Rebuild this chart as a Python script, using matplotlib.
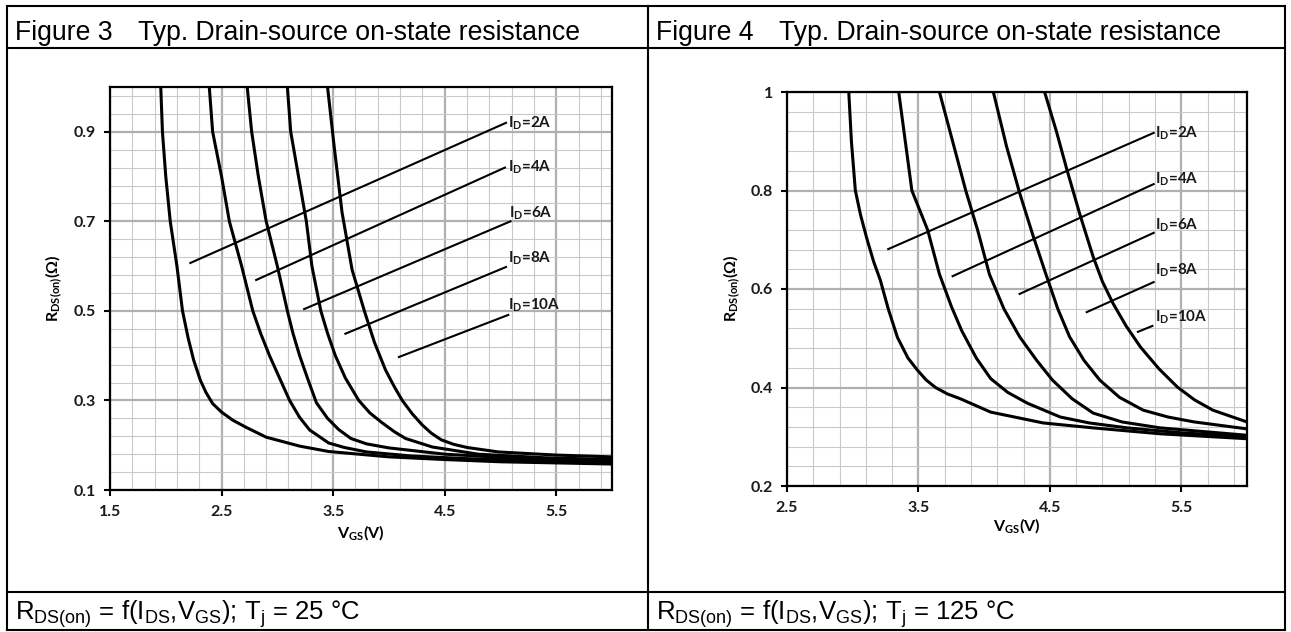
import numpy as np
import matplotlib
matplotlib.use('Agg')
import matplotlib.pyplot as plt
from matplotlib.lines import Line2D
from matplotlib.ticker import FixedLocator

plt.rcParams['font.family'] = ['Lato', 'DejaVu Sans']
plt.rcParams['mathtext.fontset'] = 'custom'
plt.rcParams['mathtext.rm'] = 'Liberation Sans'
plt.rcParams['mathtext.bf'] = 'Lato:bold'

W, H = 1291, 632

# ── Figure 3: Tj = 25 °C  (V_GS in V, R_DS(on) in ohm) ──────────────────────
vgs25_2a = [1.955, 1.97, 2.00, 2.04, 2.10, 2.15, 2.20, 2.25, 2.31, 2.36, 2.42, 2.50, 2.60, 2.72, 2.90, 3.20, 3.46, 4.00, 4.50, 5.00, 6.00]
rds25_2a = [1.00, 0.90, 0.80, 0.70, 0.60, 0.50, 0.44, 0.39, 0.345, 0.318, 0.293, 0.274, 0.256, 0.240, 0.218, 0.198, 0.186, 0.174, 0.168, 0.163, 0.158]
vgs25_4a = [2.39, 2.42, 2.50, 2.57, 2.68, 2.78, 2.85, 2.93, 3.02, 3.11, 3.20, 3.29, 3.46, 3.60, 3.80, 4.20, 4.70, 5.20, 6.00]
rds25_4a = [1.00, 0.90, 0.80, 0.70, 0.60, 0.50, 0.45, 0.40, 0.35, 0.30, 0.262, 0.234, 0.205, 0.195, 0.185, 0.176, 0.170, 0.166, 0.162]
vgs25_6a = [2.73, 2.77, 2.83, 2.90, 3.00, 3.09, 3.14, 3.20, 3.27, 3.35, 3.45, 3.55, 3.66, 3.80, 4.00, 4.50, 5.20, 6.00]
rds25_6a = [1.00, 0.90, 0.80, 0.70, 0.60, 0.50, 0.45, 0.40, 0.35, 0.295, 0.26, 0.235, 0.215, 0.203, 0.194, 0.180, 0.170, 0.165]
vgs25_8a = [3.09, 3.12, 3.19, 3.26, 3.31, 3.39, 3.45, 3.52, 3.61, 3.73, 3.83, 3.94, 4.05, 4.15, 4.39, 4.80, 5.40, 6.00]
rds25_8a = [1.00, 0.90, 0.80, 0.70, 0.60, 0.50, 0.45, 0.40, 0.35, 0.30, 0.272, 0.25, 0.23, 0.215, 0.196, 0.180, 0.172, 0.168]
vgs25_10a = [3.45, 3.51, 3.58, 3.67, 3.78, 3.87, 3.97, 4.05, 4.12, 4.21, 4.30, 4.38, 4.47, 4.58, 4.70, 4.98, 5.50, 6.00]
rds25_10a = [1.00, 0.866, 0.72, 0.592, 0.50, 0.43, 0.368, 0.33, 0.30, 0.27, 0.245, 0.227, 0.212, 0.202, 0.195, 0.185, 0.178, 0.174]

# I_D marker lines and label positions (Tj = 25 °C)
id25_x0 = [2.22, 2.81, 3.24, 3.61, 4.09]
id25_y0 = [0.607, 0.569, 0.504, 0.449, 0.397]
id25_x1 = [5.05, 5.04, 5.09, 5.05, 5.07]
id25_y1 = [0.920, 0.820, 0.700, 0.598, 0.491]
id25_lbl_x = [5.07, 5.07, 5.08, 5.07, 5.07]
id25_lbl_y = [0.920, 0.820, 0.719, 0.618, 0.513]

# ── Figure 4: Tj = 125 °C ────────────────────────────────────────────────────
vgs125_2a = [2.97, 2.99, 3.02, 3.06, 3.11, 3.16, 3.21, 3.27, 3.34, 3.42, 3.49, 3.56, 3.63, 3.72, 3.82, 4.05, 4.45, 4.83, 5.34, 6.00]
rds125_2a = [1.00, 0.90, 0.80, 0.75, 0.70, 0.655, 0.618, 0.56, 0.502, 0.46, 0.436, 0.415, 0.400, 0.387, 0.377, 0.350, 0.328, 0.318, 0.306, 0.296]
vgs125_4a = [3.35, 3.40, 3.45, 3.51, 3.57, 3.66, 3.75, 3.83, 3.94, 4.05, 4.18, 4.33, 4.58, 4.80, 5.09, 5.50, 6.00]
rds125_4a = [1.00, 0.90, 0.80, 0.76, 0.72, 0.63, 0.565, 0.515, 0.46, 0.418, 0.39, 0.368, 0.340, 0.328, 0.318, 0.308, 0.300]
vgs125_6a = [3.66, 3.76, 3.86, 3.95, 4.04, 4.15, 4.27, 4.40, 4.52, 4.67, 4.83, 5.05, 5.34, 6.00]
rds125_6a = [1.00, 0.90, 0.80, 0.72, 0.63, 0.56, 0.503, 0.455, 0.415, 0.377, 0.348, 0.330, 0.318, 0.303]
vgs125_8a = [4.07, 4.17, 4.27, 4.37, 4.47, 4.56, 4.65, 4.76, 4.88, 5.03, 5.21, 5.40, 5.60, 6.00]
rds125_8a = [1.00, 0.89, 0.795, 0.71, 0.63, 0.56, 0.503, 0.455, 0.415, 0.38, 0.354, 0.340, 0.330, 0.316]
vgs125_10a = [4.46, 4.55, 4.63, 4.73, 4.83, 4.90, 4.98, 5.08, 5.19, 5.33, 5.47, 5.60, 5.74, 6.00]
rds125_10a = [1.00, 0.92, 0.842, 0.75, 0.665, 0.615, 0.571, 0.525, 0.482, 0.438, 0.401, 0.375, 0.354, 0.330]

id125_x0 = [3.27, 3.76, 4.27, 4.78, 5.17]
id125_y0 = [0.681, 0.626, 0.590, 0.553, 0.513]
id125_x1 = [5.29, 5.29, 5.29, 5.29, 5.28]
id125_y1 = [0.917, 0.813, 0.714, 0.614, 0.525]
id125_lbl_x = [5.30, 5.30, 5.30, 5.30, 5.30]
id125_lbl_y = [0.917, 0.823, 0.730, 0.639, 0.543]

currents = ['2A', '4A', '6A', '8A', '10A']


def fx(px):
    return px / W


def fy(py):
    return 1 - py / H


def style_axes(ax, xlim, ylim, xmajor, ymajor, ylabels):
    ax.set_xlim(*xlim)
    ax.set_ylim(*ylim)
    ax.xaxis.set_major_locator(FixedLocator(xmajor))
    ax.yaxis.set_major_locator(FixedLocator(ymajor))
    ax.xaxis.set_minor_locator(FixedLocator(np.arange(xlim[0], xlim[1] + 0.01, 0.2)))
    ax.yaxis.set_minor_locator(FixedLocator(np.arange(ylim[0], ylim[1] + 0.001, 0.04)))
    ax.set_xticklabels([f'{v:.1f}' for v in xmajor], fontsize=11.5, fontweight='bold',
                       color='#1a1a1a')
    ax.set_yticklabels(ylabels, fontsize=11.5, fontweight='bold', color='#1a1a1a')
    ax.grid(which='minor', color='#c9c9c9', lw=0.8)
    ax.grid(which='major', color='#b0b0b0', lw=1.6)
    ax.set_axisbelow(True)
    ax.tick_params(which='minor', length=0)
    ax.tick_params(which='major', direction='out', length=4, width=1.5, color='black')
    ax.tick_params(axis='x', pad=7)
    ax.tick_params(axis='y', pad=6)
    for sp in ax.spines.values():
        sp.set_linewidth(1.6)
        sp.set_color('black')


fig = plt.figure(figsize=(W / 100, H / 100), dpi=100)

# ── table frame ──────────────────────────────────────────────────────────────
frame = [(7, 6, 1285, 6), (7, 630, 1285, 630), (7, 6, 7, 630), (1285, 6, 1285, 630),
         (648, 6, 648, 630), (7, 48, 1285, 48), (7, 592, 1285, 592)]
for x0, y0, x1, y1 in frame:
    fig.add_artist(Line2D([fx(x0), fx(x1)], [fy(y0), fy(y1)], transform=fig.transFigure,
                          color='black', lw=1.5))

hdr = dict(family='Liberation Sans', fontsize=19.2, fontweight='normal', va='baseline')
fig.text(fx(15), fy(40), 'Figure 3', **hdr)
fig.text(fx(138), fy(40), 'Typ. Drain-source on-state resistance', **hdr)
fig.text(fx(656), fy(40), 'Figure 4', **hdr)
fig.text(fx(779), fy(40), 'Typ. Drain-source on-state resistance', **hdr)
ftr = dict(family='Liberation Sans', fontsize=18.5, fontweight='normal', va='baseline')
fig.text(fx(15), fy(620), r'R$_\mathrm{DS(on)}$ = f(I$_\mathrm{DS}$,V$_\mathrm{GS}$); T$_\mathrm{j}$ = 25 °C', **ftr)
fig.text(fx(656), fy(620), r'R$_\mathrm{DS(on)}$ = f(I$_\mathrm{DS}$,V$_\mathrm{GS}$); T$_\mathrm{j}$ = 125 °C', **ftr)

# ── Figure 3 ─────────────────────────────────────────────────────────────────
ax1 = fig.add_axes([fx(110), fy(490), (612 - 110) / W, (490 - 87) / H])
style_axes(ax1, (1.5, 6.0), (0.1, 1.0), [1.5, 2.5, 3.5, 4.5, 5.5],
           [0.1, 0.3, 0.5, 0.7, 0.9], ['0.1', '0.3', '0.5', '0.7', '0.9'])
curves25 = [(vgs25_2a, rds25_2a), (vgs25_4a, rds25_4a), (vgs25_6a, rds25_6a),
            (vgs25_8a, rds25_8a), (vgs25_10a, rds25_10a)]
for xs, ys in curves25:
    ax1.plot(xs, ys, color='black', lw=2.2, solid_joinstyle='round')
for i, cur in enumerate(currents):
    ax1.plot([id25_x0[i], id25_x1[i]], [id25_y0[i], id25_y1[i]], color='black', lw=1.5)
    ax1.text(id25_lbl_x[i], id25_lbl_y[i], r'I$_\mathbf{D}$=' + cur, fontsize=11,
             fontweight='bold', va='center', ha='left', color='#1a1a1a')

fig.text(fx(54), fy(288), r'R$_\mathbf{DS(on)}$(Ω)', rotation=90, fontsize=11.5,
         fontweight='bold', ha='center', va='center')
fig.text(fx(361), fy(533), r'V$_\mathbf{GS}$(V)', fontsize=11.5, fontweight='bold',
         ha='center', va='center')

# ── Figure 4 ─────────────────────────────────────────────────────────────────
ax2 = fig.add_axes([fx(787), fy(486), (1247 - 787) / W, (486 - 92) / H])
style_axes(ax2, (2.5, 6.0), (0.2, 1.0), [2.5, 3.5, 4.5, 5.5],
           [0.2, 0.4, 0.6, 0.8, 1.0], ['0.2', '0.4', '0.6', '0.8', '1'])
curves125 = [(vgs125_2a, rds125_2a), (vgs125_4a, rds125_4a), (vgs125_6a, rds125_6a),
             (vgs125_8a, rds125_8a), (vgs125_10a, rds125_10a)]
for xs, ys in curves125:
    ax2.plot(xs, ys, color='black', lw=2.2, solid_joinstyle='round')
for i, cur in enumerate(currents):
    ax2.plot([id125_x0[i], id125_x1[i]], [id125_y0[i], id125_y1[i]], color='black', lw=1.5)
    ax2.text(id125_lbl_x[i], id125_lbl_y[i], r'I$_\mathbf{D}$=' + cur, fontsize=11,
             fontweight='bold', va='center', ha='left', color='#1a1a1a')

fig.text(fx(732), fy(288), r'R$_\mathbf{DS(on)}$(Ω)', rotation=90, fontsize=11.5,
         fontweight='bold', ha='center', va='center')
fig.text(fx(1017), fy(526), r'V$_\mathbf{GS}$(V)', fontsize=11.5, fontweight='bold',
         ha='center', va='center')

fig.savefig('out.png', dpi=100)
